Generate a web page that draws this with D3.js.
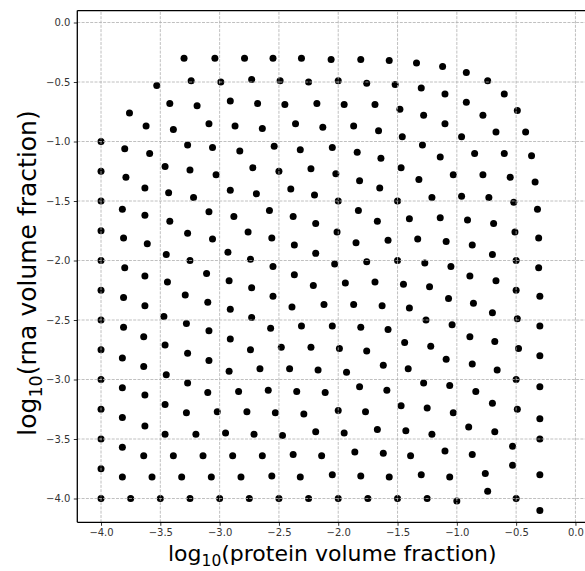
<!DOCTYPE html>
<html>
<head>
<meta charset="utf-8">
<script src="https://cdn.jsdelivr.net/npm/d3@7"></script>
<style>
  body { margin: 0; background: #fff; }
  svg { display: block; font-family: "DejaVu Sans", sans-serif; }
</style>
</head>
<body>
<svg id="chart" width="585" height="571"></svg>
<script>
// log10 values: [protein, rna]
const leftEdge = [-1.0, -1.25, -1.5, -1.75, -2.0, -2.25, -2.5, -2.75, -3.0, -3.25, -3.5, -3.75, -4.0];
const bottomEdge = [-3.75, -3.5, -3.25, -3.0, -2.75, -2.5, -2.25, -2.0, -1.75, -1.5, -1.25];
const samples = [
  [-3.30, -0.30], [-3.04, -0.30], [-2.79, -0.30], [-2.55, -0.30], [-2.31, -0.30],
  [-2.06, -0.31], [-1.81, -0.31], [-1.57, -0.32], [-1.34, -0.34], [-1.12, -0.37], [-0.92, -0.42],
  [-3.53, -0.53], [-3.24, -0.49], [-2.99, -0.50], [-2.73, -0.48], [-2.49, -0.49],
  [-2.25, -0.50], [-2.00, -0.49], [-1.76, -0.51], [-1.52, -0.52], [-1.30, -0.55], [-1.10, -0.60],
  [-0.74, -0.49], [-0.60, -0.60],
  [-3.76, -0.76], [-3.42, -0.68], [-3.19, -0.70], [-2.91, -0.66], [-2.68, -0.68], [-2.45, -0.69],
  [-2.18, -0.68], [-1.95, -0.69], [-1.69, -0.69], [-1.48, -0.73], [-1.28, -0.78], [-0.92, -0.67],
  [-0.78, -0.78], [-0.49, -0.74],
  [-3.62, -0.87], [-3.39, -0.90], [-3.09, -0.85], [-2.87, -0.87], [-2.64, -0.89], [-2.36, -0.85],
  [-2.13, -0.88], [-1.87, -0.87], [-1.66, -0.91], [-1.46, -0.96], [-1.10, -0.85], [-0.96, -0.96],
  [-0.67, -0.92], [-0.42, -0.92],
  [-3.80, -1.06], [-3.59, -1.10], [-3.27, -1.03], [-3.06, -1.05], [-2.83, -1.08], [-2.54, -1.04],
  [-2.32, -1.07], [-2.05, -1.05], [-1.84, -1.09], [-1.64, -1.14], [-1.29, -1.03], [-1.14, -1.13],
  [-0.85, -1.10], [-0.60, -1.10], [-0.37, -1.12],
  [-3.79, -1.30], [-3.46, -1.21], [-3.25, -1.24], [-3.03, -1.28], [-2.72, -1.22], [-2.50, -1.25],
  [-2.23, -1.23], [-2.02, -1.27], [-1.82, -1.33], [-1.47, -1.22], [-1.32, -1.32], [-1.03, -1.28],
  [-0.78, -1.28], [-0.55, -1.30], [-0.34, -1.34],
  [-3.63, -1.39], [-3.43, -1.43], [-3.22, -1.47], [-2.91, -1.41], [-2.69, -1.44], [-2.40, -1.40],
  [-2.20, -1.45], [-2.00, -1.50], [-1.65, -1.39], [-1.50, -1.50], [-1.21, -1.47], [-0.96, -1.46],
  [-0.73, -1.47], [-0.52, -1.51],
  [-3.82, -1.57], [-3.63, -1.62], [-3.42, -1.67], [-3.09, -1.59], [-2.88, -1.63], [-2.58, -1.58],
  [-2.38, -1.63], [-2.19, -1.69], [-1.83, -1.58], [-1.67, -1.67], [-1.40, -1.65], [-1.14, -1.64],
  [-0.91, -1.66], [-0.69, -1.69], [-0.32, -1.57],
  [-3.81, -1.81], [-3.61, -1.86], [-3.27, -1.77], [-3.06, -1.82], [-2.76, -1.76], [-2.56, -1.81],
  [-2.37, -1.87], [-2.01, -1.76], [-1.85, -1.85], [-1.58, -1.83], [-1.33, -1.82], [-1.09, -1.84],
  [-0.87, -1.87], [-0.51, -1.76], [-0.31, -1.81],
  [-3.45, -1.95], [-3.25, -2.00], [-2.93, -1.93], [-2.74, -1.99], [-2.19, -1.94], [-0.70, -1.95],
  [-3.80, -2.06], [-2.55, -2.05], [-2.03, -2.03], [-1.76, -2.01], [-1.50, -2.00], [-1.27, -2.02],
  [-1.05, -2.05], [-0.50, -2.00], [-0.31, -2.06],
  [-3.63, -2.13], [-3.44, -2.18], [-3.11, -2.11], [-2.92, -2.17], [-2.73, -2.23], [-2.37, -2.12],
  [-2.21, -2.21], [-1.94, -2.19], [-1.69, -2.18], [-1.45, -2.20], [-1.23, -2.22], [-0.89, -2.13],
  [-0.67, -2.17], [-0.50, -2.25], [-0.30, -2.30],
  [-3.81, -2.31], [-3.63, -2.38], [-3.29, -2.29], [-3.10, -2.35], [-2.91, -2.41], [-2.55, -2.30],
  [-2.39, -2.39], [-2.12, -2.37], [-1.87, -2.37], [-1.63, -2.38], [-1.40, -2.40], [-1.07, -2.32],
  [-0.86, -2.36], [-0.70, -2.44], [-0.49, -2.49],
  [-3.81, -2.56], [-3.64, -2.64], [-3.47, -2.47], [-3.28, -2.53], [-3.09, -2.59], [-2.73, -2.48],
  [-2.57, -2.57], [-2.31, -2.55], [-2.05, -2.55], [-1.81, -2.56], [-1.58, -2.58], [-1.26, -2.50],
  [-1.04, -2.54], [-0.89, -2.64], [-0.68, -2.68], [-0.30, -2.55],
  [-2.91, -2.66], [-2.74, -2.75], [-2.48, -2.73], [-3.46, -2.71], [-3.27, -2.78], [-2.23, -2.73],
  [-1.99, -2.74], [-1.76, -2.76], [-1.44, -2.69], [-1.22, -2.72], [-0.48, -2.74], [-0.30, -2.80],
  [-3.82, -2.82], [-3.09, -2.84], [-1.09, -2.83], [-0.87, -2.87],
  [-3.64, -2.89], [-3.45, -2.96], [-2.92, -2.93], [-2.66, -2.91], [-2.41, -2.91], [-2.17, -2.92],
  [-1.93, -2.94], [-1.62, -2.88], [-1.41, -2.91], [-0.66, -2.92], [-0.50, -3.00],
  [-3.82, -3.07], [-3.63, -3.13], [-3.27, -3.03], [-3.10, -3.11], [-2.84, -3.10], [-2.59, -3.09],
  [-2.35, -3.10], [-2.11, -3.11], [-1.82, -3.06], [-1.59, -3.09], [-1.28, -3.03], [-1.06, -3.05],
  [-0.84, -3.10], [-0.30, -3.06], [-0.70, -3.20],
  [-3.82, -3.32], [-3.63, -3.39], [-3.46, -3.21], [-3.28, -3.28], [-3.02, -3.27], [-2.77, -3.27],
  [-2.53, -3.28], [-2.29, -3.29], [-2.00, -3.26], [-1.77, -3.27], [-1.47, -3.22], [-1.25, -3.24],
  [-1.03, -3.28], [-0.49, -3.25], [-0.30, -3.33],
  [-3.82, -3.57], [-3.46, -3.46], [-3.20, -3.46], [-2.95, -3.45], [-2.71, -3.46], [-2.47, -3.47],
  [-2.19, -3.44], [-1.95, -3.45], [-1.67, -3.42], [-1.43, -3.43], [-1.21, -3.46], [-0.90, -3.40],
  [-0.68, -3.44], [-0.30, -3.50], [-0.53, -3.56],
  [-3.64, -3.64], [-3.39, -3.64], [-3.14, -3.64], [-2.89, -3.64], [-2.64, -3.64], [-2.38, -3.63],
  [-2.14, -3.64], [-1.86, -3.61], [-1.62, -3.62], [-1.39, -3.64], [-1.10, -3.60], [-0.87, -3.63],
  [-0.53, -3.72],
  [-3.82, -3.82], [-3.57, -3.82], [-3.32, -3.82], [-3.07, -3.82], [-2.82, -3.82], [-2.56, -3.81],
  [-2.32, -3.82], [-2.05, -3.80], [-1.81, -3.81], [-1.57, -3.82], [-1.30, -3.80], [-1.06, -3.82],
  [-0.76, -3.79], [-0.30, -3.80], [-0.74, -3.94],
  [-1.0, -4.02], [-0.5, -4.0], [-0.30, -4.10]
];
const tickValues = [-4.0, -3.5, -3.0, -2.5, -2.0, -1.5, -1.0, -0.5, 0.0];

const points = samples
  .concat(leftEdge.map(v => [-4.0, v]))
  .concat(bottomEdge.map(v => [v, -4.0]));

const svg = d3.select('#chart');
const x = d3.scaleLinear().domain([-4.2, 0.1]).range([77.3, 587.3]);
const y = d3.scaleLinear().domain([-4.2, 0.1]).range([522.3, 10.6]);
const fmt = d => d3.format('.1f')(d).replace('-', '\u2212');

// dots
svg.append('g')
  .selectAll('circle')
  .data(points)
  .join('circle')
    .attr('cx', d => x(d[0]))
    .attr('cy', d => y(d[1]))
    .attr('r', 3.5)
    .attr('fill', '#000');

// grid (drawn over the dots)
const grid = svg.append('g')
  .attr('stroke', '#b0b0b0')
  .attr('stroke-width', 0.8)
  .attr('stroke-dasharray', '3,1.3');
grid.selectAll('.gx').data(tickValues).join('line')
  .attr('x1', d => x(d)).attr('x2', d => x(d))
  .attr('y1', y.range()[0]).attr('y2', y.range()[1]);
grid.selectAll('.gy').data(tickValues).join('line')
  .attr('y1', d => y(d)).attr('y2', d => y(d))
  .attr('x1', x.range()[0]).attr('x2', x.range()[1]);

// axes
const xAxis = svg.append('g')
  .attr('transform', `translate(0,${y.range()[0]})`)
  .call(d3.axisBottom(x).tickValues(tickValues).tickFormat(fmt).tickSize(3.5).tickPadding(3.5));
const yAxis = svg.append('g')
  .attr('transform', `translate(${x.range()[0]},0)`)
  .call(d3.axisLeft(y).tickValues(tickValues).tickFormat(fmt).tickSize(3.5).tickPadding(3.5));
[xAxis, yAxis].forEach(g => {
  g.select('.domain').remove();
  g.selectAll('.tick line').attr('stroke', '#000').attr('stroke-width', 0.8);
  g.selectAll('.tick text')
    .attr('fill', '#333')
    .style('font-family', '"DejaVu Sans", sans-serif')
    .style('font-size', '10px');
});

// spines
const frame = svg.append('g').attr('stroke', '#000').attr('stroke-width', 1.3).attr('fill', 'none');
frame.append('line').attr('x1', x.range()[0]).attr('x2', x.range()[0]).attr('y1', y.range()[0]).attr('y2', y.range()[1]);
frame.append('line').attr('x1', x.range()[0]).attr('x2', x.range()[1]).attr('y1', y.range()[0]).attr('y2', y.range()[0]);
frame.append('line').attr('x1', x.range()[0]).attr('x2', x.range()[1]).attr('y1', y.range()[1]).attr('y2', y.range()[1]);

// axis labels
const xl = svg.append('text')
  .attr('x', (x.range()[0] + x.range()[1]) / 2)
  .attr('y', 561)
  .attr('text-anchor', 'middle')
  .style('font-size', '22px');
xl.append('tspan').text('log');
xl.append('tspan').attr('dy', 5).style('font-size', '15.5px').text('10');
xl.append('tspan').attr('dy', -5).text('(protein volume fraction)');

const yl = svg.append('text')
  .attr('transform', 'translate(36,273) rotate(-90)')
  .attr('text-anchor', 'middle')
  .style('font-size', '25px');
yl.append('tspan').text('log');
yl.append('tspan').attr('dy', 5.5).style('font-size', '17.5px').text('10');
yl.append('tspan').attr('dy', -5.5).text('(rna volume fraction)');
</script>
</body>
</html>
